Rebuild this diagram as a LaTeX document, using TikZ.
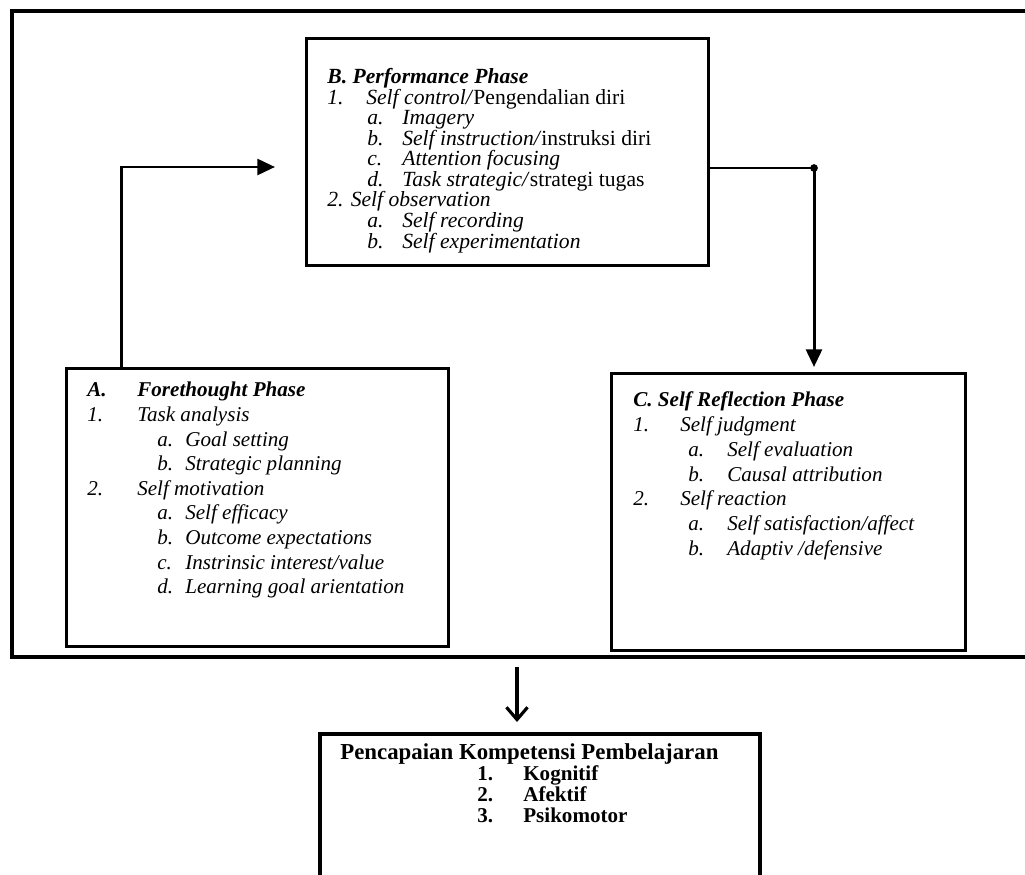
\documentclass[tikz,border=0pt]{standalone}
\usepackage{fontspec}
\setmainfont{Liberation Serif}
\usetikzlibrary{arrows.meta, positioning}

\newcommand{\lab}[2]{\makebox[#1][l]{#2}}

\tikzset{
  frame/.style={line width=2.3pt},
  phasebox/.style={draw, line width=1.8pt, anchor=north west, inner sep=0pt},
  phasetext/.style={anchor=north west, align=left, inner sep=0pt},
  arr/.style={line width=1.7pt, -{Triangle[length=10pt, width=9pt]}},
  barb/.style={line width=1.8pt, -{Straight Barb[length=7pt, width=12pt]}}
}

\begin{document}
\begin{tikzpicture}[x=0.02cm, y=-0.02cm]
  \useasboundingbox (0,0) rectangle (1025,875);

  % outer frame
  \draw[frame] (1035,11) -- (12,11) -- (12,657) -- (1035,657);
  \coordinate (frameS) at (517,657);

  % phase boxes
  \node[phasebox, minimum width=8.04cm, minimum height=4.54cm, line width=1.5pt] (boxB) at (305,37) {};
  \node[phasebox, minimum width=7.64cm, minimum height=5.56cm] (boxA) at (65,367) {};
  \node[phasebox, minimum width=7.08cm, minimum height=5.54cm] (boxC) at (610,372) {};
  \node[phasebox, minimum width=8.8cm, minimum height=3cm, line width=2.2pt] (boxD) at (318,732) {};

  \node[phasetext, font=\fontsize{12.3}{11.7}\selectfont\itshape] (textB) at (327,68) {%
    {\bfseries B. Performance Phase}\\
    \lab{0.78cm}{1.}Self control/\textup{Pengendalian diri}\\
    \hspace*{0.8cm}\lab{0.7cm}{a.}Imagery\\
    \hspace*{0.8cm}\lab{0.7cm}{b.}Self instruction/\textup{instruksi diri}\\
    \hspace*{0.8cm}\lab{0.7cm}{c.}Attention focusing\\
    \hspace*{0.8cm}\lab{0.7cm}{d.}Task strategic/\textup{strategi tugas}\\
    2. Self observation\\
    \hspace*{0.8cm}\lab{0.7cm}{a.}Self recording\\
    \hspace*{0.8cm}\lab{0.7cm}{b.}Self experimentation};

  \node[phasetext, font=\fontsize{12}{14}\selectfont\itshape] (textA) at (87,382) {%
    {\bfseries\lab{1cm}{A.}Forethought Phase}\\
    \lab{1cm}{1.}Task analysis\\
    \hspace*{1.4cm}\lab{0.56cm}{a.}Goal setting\\
    \hspace*{1.4cm}\lab{0.56cm}{b.}Strategic planning\\
    \lab{1cm}{2.}Self motivation\\
    \hspace*{1.4cm}\lab{0.56cm}{a.}Self efficacy\\
    \hspace*{1.4cm}\lab{0.56cm}{b.}Outcome expectations\\
    \hspace*{1.4cm}\lab{0.56cm}{c.}Instrinsic interest/value\\
    \hspace*{1.4cm}\lab{0.56cm}{d.}Learning goal arientation};

  \node[phasetext, font=\fontsize{12}{14.2}\selectfont\itshape] (textC) at (633,391) {%
    {\bfseries C. Self Reflection Phase}\\
    \lab{0.94cm}{1.}Self judgment\\
    \hspace*{1.1cm}\lab{0.78cm}{a.}Self evaluation\\
    \hspace*{1.1cm}\lab{0.78cm}{b.}Causal attribution\\
    \lab{0.94cm}{2.}Self reaction\\
    \hspace*{1.1cm}\lab{0.78cm}{a.}Self satisfaction/affect\\
    \hspace*{1.1cm}\lab{0.78cm}{b.}Adaptiv /defensive};

  \node[phasetext, font=\fontsize{12}{12}\selectfont\bfseries] (textD) at (340,743) {%
    {\fontsize{13}{12}\selectfont Pencapaian Kompetensi Pembelajaran}\\
    \hspace*{2.74cm}\lab{0.92cm}{1.}Kognitif\\
    \hspace*{2.74cm}\lab{0.92cm}{2.}Afektif\\
    \hspace*{2.74cm}\lab{0.92cm}{3.}Psikomotor};

  % connectors
  \coordinate (tipB) at (275,167);
  \draw[arr] ([xshift=1.14cm]boxA.north west) |- (tipB);
  \coordinate (bendC) at (814,168);
  \draw[arr, shorten >=0.1cm] (boxB.east |- bendC) -- (bendC) -- (bendC |- boxC.north);
  \fill (bendC) circle (2.2pt);
  \draw[barb, shorten <=0.2cm, shorten >=0.2cm] (frameS) -- (frameS |- boxD.north);
\end{tikzpicture}
\end{document}
